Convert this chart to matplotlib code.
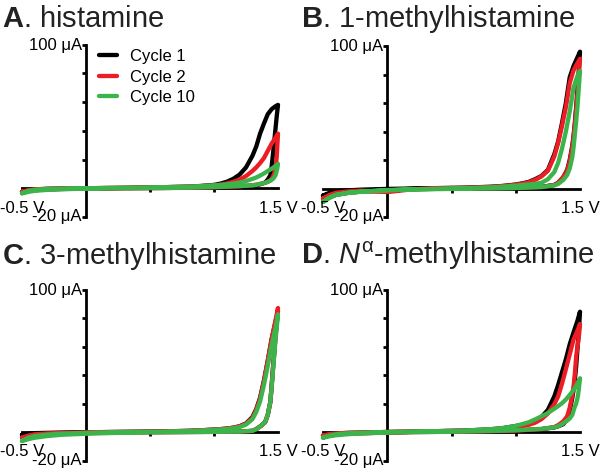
import matplotlib
matplotlib.use("Agg")
import matplotlib.pyplot as plt

plt.rcParams['font.family'] = ['Liberation Sans', 'DejaVu Sans']
plt.rcParams['mathtext.fontset'] = 'custom'
plt.rcParams['mathtext.rm'] = 'Liberation Sans'
plt.rcParams['mathtext.it'] = 'Liberation Sans:italic'
plt.rcParams['mathtext.bf'] = 'Liberation Sans:bold'

# ---------------- data ----------------
panel_titles = [r"$\mathbf{A}$. histamine",
                r"$\mathbf{B}$. 1-methylhistamine",
                r"$\mathbf{C}$. 3-methylhistamine",
                r"$\mathbf{D}$. $N^{\mathrm{α}}$-methylhistamine"]
cycle_labels = ["Cycle 1", "Cycle 2", "Cycle 10"]
cycle_colors = ["#000000", "#ee1c24", "#3cb44b"]

# potential grids (V) for forward and reverse sweep
fwd_v = [-0.5, -0.45, -0.4, -0.3, -0.2, 0.0, 0.2, 0.4, 0.6, 0.8, 0.9, 1.0, 1.05,
         1.1, 1.15, 1.2, 1.25, 1.3, 1.33, 1.36, 1.39, 1.42, 1.45, 1.48, 1.5]
rev_v = [1.5, 1.495, 1.49, 1.485, 1.48, 1.47, 1.46, 1.45, 1.44, 1.42, 1.40, 1.37,
         1.33, 1.3, 1.2, 1.0, 0.8, 0.6, 0.4, 0.2, 0.0, -0.2, -0.3, -0.4, -0.45, -0.5]

# currents (uA) -- panel A: histamine
a_c1_fwd = [-2.5, -1.3, -0.8, -0.4, -0.2, 0, 0.2, 0.4, 0.7, 1.1, 1.6, 2.3, 3.2, 4.5, 6.5,
            9.5, 14.5, 22.5, 29, 38, 45, 51.5, 55, 57, 58]
a_c1_rev = [58, 54, 50, 45.5, 41, 32, 23, 15, 9, 6, 4, 3, 2, 1.7, 1.2, 0.6, 0.3, 0.2,
            0.1, 0, -0.2, -0.5, -0.8, -1.3, -1.8, -2.5]
a_c2_fwd = [-2.5, -1.3, -0.8, -0.4, -0.2, 0, 0.2, 0.4, 0.7, 1.1, 1.5, 2.0, 2.5, 3.3, 4.5,
            6.0, 8.5, 12, 14.5, 17.5, 21, 26, 31, 35, 38]
a_c2_rev = [38, 30, 22, 17, 14, 10, 8, 6.5, 5.5, 4.5, 3.8, 3.2, 2.5, 2.1, 1.4, 0.7, 0.4,
            0.2, 0.1, 0, -0.2, -0.5, -0.8, -1.3, -1.8, -2.5]
a_c3_fwd = [-3.5, -1.8, -1.0, -0.5, -0.2, 0, 0.2, 0.4, 0.7, 1.1, 1.5, 2.0, 2.3, 2.7, 3.2,
            4.0, 5.0, 6.5, 7.5, 8.8, 10.3, 12, 13.5, 15.5, 17]
a_c3_rev = [17, 14, 12, 10.5, 9, 7.5, 6.5, 5.8, 5.2, 4.5, 3.8, 3.2, 2.4, 2.0, 1.5, 0.8,
            0.4, 0.2, 0.1, 0, -0.3, -0.7, -1.1, -1.8, -2.5, -3.5]

# panel B: 1-methylhistamine
b_c1_fwd = [-5, -3, -2, -1.3, -0.8, -0.3, 0, 0.3, 0.6, 1.2, 1.8, 2.8, 3.6, 4.6, 6.5,
            8.8, 13, 24, 33, 46, 60, 78, 86, 92, 96]
b_c1_rev = [96, 89, 82, 75.5, 69, 57, 46, 37, 30, 20, 13, 8, 4, 2.5, 1.1, 0.5, 0.2, 0,
            -0.2, -0.3, -0.8, -1.5, -2, -3, -4, -5]
b_c2_fwd = [-7, -4.5, -3, -2, -1.5, -2.5, -0.5, 0.2, 0.5, 1.1, 1.7, 2.6, 3.4, 4.3, 6,
            8.5, 12.5, 22.5, 32, 44, 57, 74, 83, 88, 91]
b_c2_rev = [91, 85, 78, 72, 66, 55, 45, 36, 29, 19, 12.5, 8, 4, 2.5, 1.1, 0.5, 0.2, 0,
            -0.2, -0.5, -1.5, -2.2, -3, -4.5, -5.5, -7]
b_c3_fwd = [-9.4, -6.5, -4.5, -3, -2.2, -1.2, -0.6, -0.2, 0.2, 0.8, 1.3, 2.0, 2.4, 2.8,
            3.3, 4.0, 6.5, 11.5, 18, 28, 40, 54, 71, 79, 82.5]
b_c3_rev = [82.5, 76, 70, 63.5, 57, 47, 38, 29, 22, 14, 9.5, 6, 3.2, 2.2, 1.0, 0.3, 0,
            -0.2, -0.4, -0.6, -1.2, -2.2, -3, -4.5, -6.5, -9.4]

# panel C: 3-methylhistamine
c_c1_fwd = [-2, -1.2, -0.8, -0.6, -0.4, -0.2, 0, 0.2, 0.4, 0.8, 1.2, 1.7, 2.0, 2.4, 3.0,
            4.0, 6.0, 10.5, 16, 24, 36, 50, 65, 77, 85]
c_c1_rev = [85, 80, 76, 71.5, 67, 55, 44, 32, 21, 12, 7, 4.5, 2, 0.8, 0.3, 0.1, 0.05, 0,
            -0.1, -0.2, -0.5, -0.8, -1.0, -1.4, -1.7, -2]
c_c2_fwd = [-4, -2.5, -1.6, -1, -0.6, -0.3, 0, 0.2, 0.4, 0.8, 1.2, 1.7, 2.0, 2.4, 3.0,
            4.0, 5.8, 10, 15.5, 23.5, 35.5, 50, 65, 78, 87]
c_c2_rev = [87, 82, 77, 72, 67, 55, 44, 32, 21, 12, 7, 4.5, 2, 0.8, 0.3, 0.1, 0, -0.1,
            -0.2, -0.4, -0.8, -1.3, -1.8, -2.5, -3.2, -4]
c_c3_fwd = [-6.3, -4, -2.8, -1.8, -1.2, -0.6, -0.2, 0.1, 0.3, 0.7, 1.1, 1.5, 1.8, 2.1,
            2.6, 3.5, 5.2, 9, 14, 21.5, 33, 46.5, 61, 73, 82.6]
c_c3_rev = [82.6, 78, 73, 68.5, 64, 53, 42, 31, 21, 12, 7, 4.5, 2, 0.8, 0.3, 0.1, 0,
            -0.2, -0.4, -0.7, -1.2, -2, -2.8, -4, -5, -6.3]

# panel D: N-alpha-methylhistamine
d_c1_fwd = [-2.5, -1.5, -1.0, -0.6, -0.4, 0, 0.3, 0.6, 1.0, 1.8, 2.7, 4.2, 5.0, 5.8, 7.5,
            10.5, 15.5, 25, 33, 42, 51, 61.5, 70, 78, 84.4]
d_c1_rev = [84.4, 77, 70, 64, 58, 46, 37, 29.5, 24, 15, 9, 5.5, 4, 3.2, 2, 1, 0.6, 0.3,
            0.1, 0, -0.4, -0.8, -1.1, -1.6, -2, -2.5]
d_c2_fwd = [-2.5, -1.5, -1.0, -0.6, -0.4, 0, 0.3, 0.6, 1.0, 1.7, 2.5, 3.5, 4.2, 5.0, 6.5,
            9, 13, 19.5, 25, 34, 44, 54.5, 65, 71, 75.8]
d_c2_rev = [75.8, 70.5, 66, 63, 60, 52.8, 41, 32, 26, 17, 11, 7.5, 4.8, 3.5, 2, 1, 0.6,
            0.3, 0.1, 0, -0.4, -0.8, -1.1, -1.6, -2, -2.5]
d_c3_fwd = [-4, -2.5, -1.6, -0.9, -0.5, 0, 0.3, 0.6, 1.0, 2.0, 2.8, 4.3, 5.5, 6.8, 8.8,
            11, 13.3, 16.3, 18.2, 20.2, 22.8, 26, 29.5, 34, 37.7]
d_c3_rev = [37.7, 33.5, 29.5, 26, 23.5, 20, 17.8, 15, 12, 9.5, 8, 6, 4, 3.3, 2.2, 1.2,
            0.7, 0.3, 0.1, 0, -0.4, -1, -1.5, -2.3, -3, -4]

panels = [
    [(a_c1_fwd, a_c1_rev), (a_c2_fwd, a_c2_rev), (a_c3_fwd, a_c3_rev)],
    [(b_c1_fwd, b_c1_rev), (b_c2_fwd, b_c2_rev), (b_c3_fwd, b_c3_rev)],
    [(c_c1_fwd, c_c1_rev), (c_c2_fwd, c_c2_rev), (c_c3_fwd, c_c3_rev)],
    [(d_c1_fwd, d_c1_rev), (d_c2_fwd, d_c2_rev), (d_c3_fwd, d_c3_rev)],
]

x_min_label, x_max_label = "-0.5 V", "1.5 V"
y_max_label, y_min_label = "100 μA", "-20 μA"

# ---------------- figure ----------------
W, H = 600, 472
fig = plt.figure(figsize=(W / 100, H / 100), dpi=100)

# axes rectangles in pixels: (left, right, top(100 uA), bottom(-20 uA))
rects = [(22, 278, 44.5, 217), (323, 580, 46, 217),
         (22, 278, 289.5, 460.5), (323, 580, 289.5, 460.5)]
title_pos = [(2, 27), (301, 27), (2, 264), (301, 264)]

LW_AX = 2.0
for k, (l, r, t, b) in enumerate(rects):
    ax = fig.add_axes([l / W, 1 - b / H, (r - l) / W, (b - t) / H])
    ax.set_xlim(-0.5, 1.5)
    ax.set_ylim(-20, 100)
    ax.patch.set_alpha(0)
    for s in ['top', 'right']:
        ax.spines[s].set_visible(False)
    ax.spines['left'].set_position(('data', 0))
    ax.spines['bottom'].set_position(('data', 0))
    ax.spines['left'].set_linewidth(LW_AX)
    ax.spines['bottom'].set_linewidth(LW_AX)
    ax.set_yticks([-20, 0, 20, 40, 60, 80, 100])
    ax.set_xticks([0.5, 1.0])
    ax.tick_params(axis='y', direction='out', length=3, width=2, labelleft=False)
    ax.tick_params(axis='x', direction='out', length=3, width=2, labelbottom=False)

    for (fwd, rev), col, lab in zip(panels[k], cycle_colors, cycle_labels):
        ax.plot(fwd_v + rev_v, fwd + rev, color=col, lw=3.1, zorder=3,
                clip_on=False, solid_joinstyle='round', solid_capstyle='round',
                label=lab)

    fs = 12
    ax.annotate(y_max_label, xy=(0, 100), xytext=(-4, -1), textcoords='offset pixels',
                ha='right', va='center', fontsize=fs)
    ax.annotate(y_min_label, xy=(0, -20), xytext=(-4, 0), textcoords='offset pixels',
                ha='right', va='center', fontsize=fs)
    ax.annotate(x_min_label, xy=(-0.5, 0), xytext=(0, -20), textcoords='offset pixels',
                ha='center', va='center', fontsize=fs)
    ax.annotate(x_max_label, xy=(1.5, 0), xytext=(0, -20), textcoords='offset pixels',
                ha='center', va='center', fontsize=fs)

    tx, ty = title_pos[k]
    fig.text(tx / W, 1 - ty / H, panel_titles[k], fontsize=21, ha='left',
             va='baseline', color='#222222')

    if k == 0:
        ax.legend(loc='upper left', bbox_to_anchor=(99 / W, 1 - 49 / H),
                  bbox_transform=fig.transFigure, frameon=False, fontsize=12,
                  handlelength=1.1, handletextpad=0.75, labelspacing=0.34,
                  borderpad=0, borderaxespad=0)

fig.savefig("out.png", dpi=100)
